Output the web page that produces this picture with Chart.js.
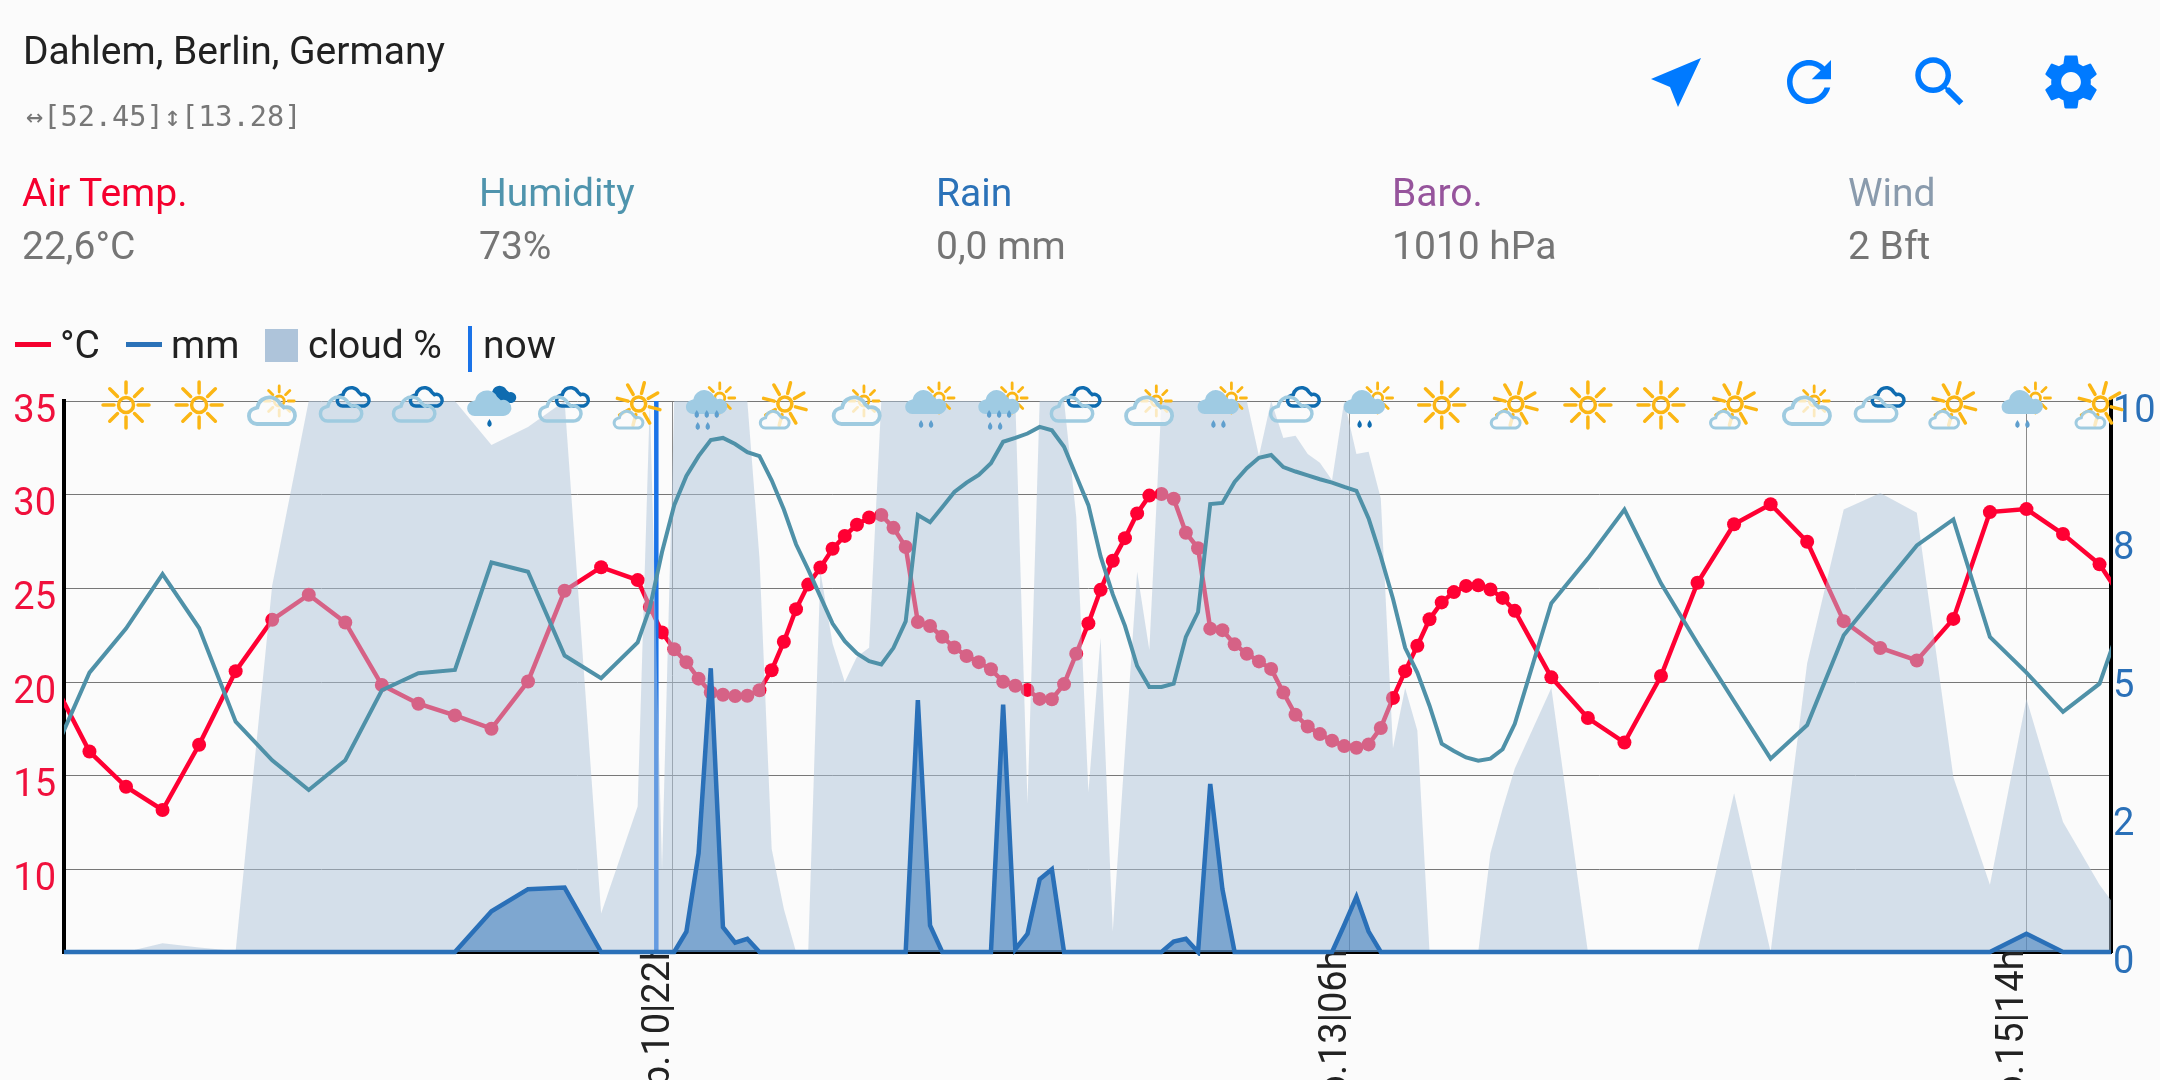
<!DOCTYPE html>
<html>
<head>
<meta charset="utf-8">
<title>Dahlem weather</title>
<script src="https://cdn.jsdelivr.net/npm/chart.js@4/dist/chart.umd.min.js"></script>
<style>
html,body{margin:0;padding:0;background:#fbfbfb;width:2160px;height:1080px;overflow:hidden;font-family:Roboto,sans-serif;}
canvas{position:absolute;left:0;top:0;}
.t{position:absolute;font-size:39px;line-height:44px;white-space:nowrap;}
.v{color:#757575;}
svg{position:absolute;fill:#007aff;}
.sw{position:absolute;}
</style>
</head>
<body>
<canvas id="myChart" width="2160" height="1080"></canvas>

<div class="t" style="left:23px;top:29px;color:#212121">Dahlem, Berlin, Germany</div>
<div class="t" style="left:26px;top:100px;color:#777;font-size:28.6px;line-height:32px;font-family:'DejaVu Sans Mono',monospace">↔[52.45]↕[13.28]</div>

<div class="t" style="left:22px;top:171px;color:#f5002e">Air Temp.</div>
<div class="t v" style="left:22px;top:224px">22,6°C</div>
<div class="t" style="left:479px;top:171px;color:#4f94ad">Humidity</div>
<div class="t v" style="left:479px;top:224px">73%</div>
<div class="t" style="left:936px;top:171px;color:#2b72b8">Rain</div>
<div class="t v" style="left:936px;top:224px">0,0 mm</div>
<div class="t" style="left:1392px;top:171px;color:#96549c">Baro.</div>
<div class="t v" style="left:1392px;top:224px">1010 hPa</div>
<div class="t" style="left:1848px;top:171px;color:#8a9bad">Wind</div>
<div class="t v" style="left:1848px;top:224px">2 Bft</div>

<div class="sw" style="left:15px;top:342px;width:36px;height:5px;background:#f5002e"></div>
<div class="t" style="left:60px;top:323px;color:#212121">°C</div>
<div class="sw" style="left:126px;top:342px;width:36px;height:5px;background:#2b72b8"></div>
<div class="t" style="left:171px;top:323px;color:#212121">mm</div>
<div class="sw" style="left:265px;top:329px;width:33px;height:33px;background:#aec4da"></div>
<div class="t" style="left:308px;top:323px;color:#212121">cloud %</div>
<div class="sw" style="left:468px;top:326px;width:4px;height:46px;background:#1a73e8"></div>
<div class="t" style="left:483px;top:323px;color:#212121">now</div>

<svg style="left:0;top:0" width="2160" height="120"><polygon points="1701,58 1651,79 1670,87 1678,107"/></svg>
<svg style="left:1776px;top:49px" width="66" height="66" viewBox="0 0 24 24"><path d="M17.65 6.35C16.2 4.9 14.21 4 12 4c-4.42 0-7.99 3.58-7.99 8s3.57 8 7.99 8c3.73 0 6.84-2.55 7.73-6h-2.08c-.82 2.33-3.04 4-5.65 4-3.31 0-6-2.69-6-6s2.69-6 6-6c1.66 0 3.14.69 4.22 1.78L13 11h7V4l-2.35 2.35z"/></svg>
<svg style="left:1907px;top:49px" width="66" height="66" viewBox="0 0 24 24"><path d="M15.5 14h-.79l-.28-.27C15.41 12.59 16 11.11 16 9.5 16 5.91 13.09 3 9.5 3S3 5.91 3 9.5 5.91 16 9.5 16c1.61 0 3.09-.59 4.23-1.57l.27.28v.79l5 4.99L20.49 19l-4.99-5zm-6 0C7.01 14 5 11.99 5 9.5S7.01 5 9.5 5 14 7.01 14 9.5 11.99 14 9.5 14z"/></svg>
<svg style="left:2038px;top:49px" width="66" height="66" viewBox="0 0 24 24"><path d="M19.14 12.94c.04-.3.06-.61.06-.94 0-.32-.02-.64-.07-.94l2.03-1.58c.18-.14.23-.41.12-.61l-1.92-3.32c-.12-.22-.37-.29-.59-.22l-2.39.96c-.5-.38-1.03-.7-1.62-.94l-.36-2.54c-.04-.24-.24-.41-.48-.41h-3.84c-.24 0-.43.17-.47.41l-.36 2.54c-.59.24-1.13.57-1.62.94l-2.39-.96c-.22-.08-.47 0-.59.22L2.74 8.87c-.12.21-.08.47.12.61l2.03 1.58c-.05.3-.09.63-.09.94s.02.64.07.94l-2.03 1.58c-.18.14-.23.41-.12.61l1.92 3.32c.12.22.37.29.59.22l2.39-.96c.5.38 1.03.7 1.62.94l.36 2.54c.05.24.24.41.48.41h3.84c.24 0 .44-.17.47-.41l.36-2.54c.59-.24 1.13-.56 1.62-.94l2.39.96c.22.08.47 0 .59-.22l1.92-3.32c.12-.22.07-.47-.12-.61l-2.01-1.58zM12 15.6c-1.98 0-3.6-1.62-3.6-3.6s1.62-3.6 3.6-3.6 3.6 1.62 3.6 3.6-1.62 3.6-3.6 3.6z"/></svg>

<script>
// hours counted from the 10|22 forecast step
var hours = [-51,-48,-45,-42,-39,-36,-33,-30,-27,-24,-21,-18,-15,-12,-9,-6,-3,
    -2,-1,0,1,2,3,4,5,6,7,8,9,10,11,12,13,14,15,16,17,18,19,20,21,22,23,24,25,26,27,28,29,30,31,32,33,34,
    35,36,37,38,39,40,41,42,43,44,45,46,47,48,49,50,51,52,53,54,55,56,57,58,59,60,61,62,63,64,65,66,67,68,69,
    72,75,78,81,84,87,90,93,96,99,102,105,108,111,114,117,120];

var temps = [20.06,16.29,14.41,13.17,16.65,20.58,23.32,24.66,23.18,19.84,18.84,18.22,17.51,20.03,24.87,26.13,25.44,
    24.01,22.65,21.75,21.06,20.18,19.44,19.32,19.25,19.27,19.56,20.63,22.15,23.89,25.2,26.11,27.11,27.8,28.4,28.78,28.92,28.23,27.21,
    23.2,22.99,22.42,21.84,21.39,21.06,20.68,20.01,19.8,19.58,19.1,19.08,19.89,21.51,23.13,24.92,26.47,27.68,29.0,29.95,30.04,29.78,27.97,27.14,
    22.85,22.77,22.01,21.51,21.1,20.7,19.44,18.25,17.63,17.22,16.87,16.58,16.49,16.67,17.55,19.15,20.58,21.94,23.35,24.25,24.8,25.13,25.16,24.94,24.49,23.8,
    20.25,18.08,16.77,20.32,25.3,28.42,29.49,27.49,23.25,21.82,21.15,23.37,29.07,29.23,27.9,26.28,23.35];

var humidity = [35.7,50.7,58.7,68.6,58.8,41.8,34.8,29.4,34.8,47.5,50.6,51.2,70.7,69,53.8,49.7,56.2,
    62.5,72.6,81.1,86.4,90,92.9,93.3,92.2,90.7,90,85.6,80.3,74,69.4,64.5,59.6,56.4,54.2,52.8,52.2,55.2,60,
    79.3,78,80.7,83.5,85.2,86.6,88.7,92.6,93.3,94.1,95.3,94.7,91.7,86.4,81.1,71.8,64.9,59.2,51.9,48.1,48.1,48.7,57.2,61.7,
    81.3,81.5,85.3,87.8,89.7,90.2,88,87.2,86.5,85.8,85.2,84.4,83.7,78.7,71.8,64.1,55.2,50.7,44.7,37.8,36.5,35.3,34.7,35.1,36.8,41.4,
    63.3,71.4,80.3,66.9,56,45.5,35.1,41.2,57.5,65.7,73.8,78.5,57.2,50.7,43.6,48.7,67.7];

var rain = [0,0,0,0,0,0,0,0,0,0,0,0,0.74,1.14,1.17,0,0,
    0,0,0,0.37,1.79,5.15,0.45,0.17,0.24,0,0,0,0,0,0,0,0,0,0,0,0,0,
    4.57,0.48,0,0,0,0,0,4.49,0.05,0.33,1.32,1.5,0,0,0,0,0,0,0,0,0,0.19,0.24,0,
    3.05,1.14,0,0,0,0,0,0,0,0,0,0.49,1.0,0.37,0,0,0,0,0,0,0,0,0,0,0,0,
    0,0,0,0,0,0,0,0,0,0,0,0,0,0.33,0,0,0];

var clouds = [0,0,0,1.6,0.8,0.2,66.5,100,100,100,100,100,92,95.3,100,7,26.4,
    100,15,100,100,100,100,100,100,100,71.4,18.7,7.8,0,0,69,56,49,53.6,55.2,100,100,100,
    100,100,100,100,100,100,100,100,100,27,100,100,100,79,29,57,3.7,36.5,69,54.8,100,100,100,100,
    100,100,100,100,90,100,93.3,93.7,90.4,88.8,85.6,100,90.4,90.8,82.3,37,47.9,40.2,0,0,0,0,0,17.9,26,33.3,
    47.9,0,0,0,0,28.8,0,52.4,80.3,83.3,79.7,31.7,12.2,45.9,23.6,12.2,3.3];

var tempTicks = [35,30,25,20,15,10];
var rainTicks = [0,2.5,5,7.5,10];
var rainTickLabels = ['0','2','5','8','10'];
var timeTicks = [-0.15,55.4,110.97];
var timeLabels = ['Sep.10|22h','Sep.13|06h\u00a0','Sep.15|14h\u00a0'];
var nowHour = [-1.47,-1.47];
var nowLevel = [0,100];

var iconHours = [-45,-39,-33,-27,-21,-15,-9,-3,3,9,15,21,27,33,39,45,51,57,63,69,75,81,87,93,99,105,111,117];
var iconKinds = ['sun','sun','cloudSun','twoClouds','twoClouds','storm','twoClouds','sunCloud','rainHeavy',
    'sunCloud','cloudSun','rainSun','rainHeavy','twoClouds','cloudSun','rainSun','twoClouds','rainDark','sun',
    'sunCloud','sun','sun','sunCloud','cloudSun','twoClouds','sunCloud','rainSun','sunCloud'];

function pairs(values) {
    return values.map(function(v, i) { return {x: hours[i], y: v}; });
}

var SUN = '#fbb614', CLOUD_LINE = '#9fcbe0', CLOUD_FILL = '#9fcbe3', DARK = '#0f6cb0';
var PAGE_WASH = 'rgba(251,251,251,0.75)';

function drawSun(ctx, x, y, r, rays, turn) {
    ctx.strokeStyle = SUN;
    ctx.lineWidth = r > 6 ? 3.5 : 2.8;
    ctx.lineCap = 'round';
    ctx.beginPath();
    ctx.arc(x, y, r, 0, Math.PI * 2);
    ctx.stroke();
    for (var i = 0; i < 8; i++) {
        var a = i * Math.PI / 4 + (turn || 0);
        ctx.beginPath();
        ctx.moveTo(x + Math.cos(a) * rays[0], y + Math.sin(a) * rays[0]);
        ctx.lineTo(x + Math.cos(a) * rays[1], y + Math.sin(a) * rays[1]);
        ctx.stroke();
    }
}

function cloudPath(ctx, x, y, w) {
    // x,y is the centre of the flat base line
    var h = w * 0.55;
    ctx.beginPath();
    ctx.moveTo(x - w * 0.32, y);
    ctx.arc(x - w * 0.32, y - h * 0.3, h * 0.3, Math.PI / 2, Math.PI * 1.4);
    ctx.arc(x - w * 0.06, y - h * 0.55, h * 0.46, Math.PI * 1.05, Math.PI * 1.85);
    ctx.arc(x + w * 0.3, y - h * 0.32, h * 0.32, Math.PI * 1.4, Math.PI / 2);
    ctx.closePath();
}

function outlineCloud(ctx, x, y, w, color, lw, bg) {
    cloudPath(ctx, x, y, w);
    if (bg) {
        ctx.fillStyle = bg;
        ctx.fill();
    }
    ctx.strokeStyle = color;
    ctx.lineWidth = lw;
    ctx.stroke();
}

function drops(ctx, x, y, n, color) {
    ctx.fillStyle = color;
    for (var i = 0; i < n; i++) {
        var dx = x + (i - (n - 1) / 2) * 10;
        ctx.beginPath();
        ctx.moveTo(dx, y);
        ctx.quadraticCurveTo(dx + 4.5, y + 6, dx, y + 8);
        ctx.quadraticCurveTo(dx - 4.5, y + 6, dx, y);
        ctx.fill();
    }
}

function drawIcon(ctx, kind, x, top) {
    if (kind === 'sun') {
        drawSun(ctx, x, top + 4, 7.5, [12, 23]);
    } else if (kind === 'sunCloud') {
        drawSun(ctx, x + 1, top + 3, 7, [11, 22], 0.26);
        outlineCloud(ctx, x - 9, top + 27, 30, CLOUD_LINE, 3, PAGE_WASH);
    } else if (kind === 'cloudSun') {
        drawSun(ctx, x + 7, top, 5, [9, 15]);
        outlineCloud(ctx, x, top + 23, 48, CLOUD_LINE, 3.8, PAGE_WASH);
    } else if (kind === 'twoClouds') {
        outlineCloud(ctx, x + 8, top + 5, 33, DARK, 3.5);
        outlineCloud(ctx, x - 4, top + 20, 43, CLOUD_LINE, 3.5);
    } else if (kind === 'storm') {
        cloudPath(ctx, x + 10, top + 2, 31);
        ctx.fillStyle = DARK;
        ctx.fill();
        cloudPath(ctx, x - 2, top + 15, 46);
        ctx.fillStyle = CLOUD_FILL;
        ctx.fill();
        drops(ctx, x - 2, top + 18, 1, DARK);
    } else {
        drawSun(ctx, x + 9, top - 3, 5, [9, 15]);
        cloudPath(ctx, x - 4, top + 13, 43);
        ctx.fillStyle = CLOUD_FILL;
        ctx.fill();
        if (kind === 'rainHeavy') {
            drops(ctx, x - 4, top + 9, 3, '#5f9fce');
            drops(ctx, x - 8, top + 21, 2, '#5f9fce');
        } else if (kind === 'rainSun') {
            drops(ctx, x - 4, top + 19, 2, '#5f9fce');
        } else {
            drops(ctx, x - 4, top + 19, 2, DARK);
        }
    }
}

var iconPlugin = {
    id: 'weatherIcons',
    afterDraw: function(chart) {
        var ctx = chart.ctx;
        ctx.save();
        iconHours.forEach(function(h, i) {
            drawIcon(ctx, iconKinds[i], chart.scales.x.getPixelForValue(h), chart.chartArea.top);
        });
        ctx.restore();
    }
};

var ctx = document.getElementById('myChart').getContext('2d');
var myChart = new Chart(ctx, {
    type: 'line',
    plugins: [iconPlugin],
    data: {
        datasets: [{
            label: '°C',
            data: pairs(temps),
            yAxisID: 'y',
            borderColor: '#ff0033',
            backgroundColor: '#ff0033',
            borderWidth: 4.5,
            pointRadius: 7,
            pointBorderWidth: 0,
            order: 4
        }, {
            label: 'now',
            data: nowHour.map(function(h, i) { return {x: h, y: nowLevel[i]}; }),
            yAxisID: 'pct',
            borderColor: '#1a73e8',
            borderWidth: 4.5,
            pointRadius: 0,
            order: 3
        }, {
            label: 'cloud %',
            data: pairs(clouds),
            yAxisID: 'pct',
            borderWidth: 0,
            borderColor: 'rgba(0,0,0,0)',
            backgroundColor: 'rgba(174,196,218,0.5)',
            pointRadius: 0,
            fill: 'origin',
            order: 2
        }, {
            label: 'humidity',
            data: pairs(humidity),
            yAxisID: 'pct',
            borderColor: '#4f91a8',
            borderWidth: 4,
            pointRadius: 0,
            order: 1
        }, {
            label: 'mm',
            data: pairs(rain),
            yAxisID: 'mm',
            borderColor: '#2a70b8',
            backgroundColor: 'rgba(42,112,184,0.5)',
            borderWidth: 4.5,
            pointRadius: 0,
            fill: 'origin',
            clip: {left: 0, top: 0, right: 0, bottom: 4},
            order: 0
        }]
    },
    options: {
        responsive: false,
        devicePixelRatio: 1,
        animation: false,
        layout: {padding: {top: 401, left: 0, right: 0, bottom: 0}},
        plugins: {legend: {display: false}, tooltip: {enabled: false}},
        scales: {
            x: {
                type: 'linear',
                min: -50.09,
                max: 117.94,
                afterBuildTicks: function(scale) {
                    scale.ticks = timeTicks.map(function(v) { return {value: v}; });
                },
                afterFit: function(scale) { scale.height = 128; },
                border: {color: '#000', width: 4},
                grid: {color: '#8a8a8a', lineWidth: 1, drawTicks: false},
                ticks: {
                    autoSkip: false,
                    minRotation: 90,
                    maxRotation: 90,
                    padding: -12,
                    labelOffset: -13,
                    color: '#222',
                    font: {family: 'Roboto', size: 38},
                    callback: function(v, i) { return timeLabels[i]; }
                }
            },
            y: {
                position: 'left',
                min: 5.59,
                max: 35,
                afterBuildTicks: function(scale) {
                    scale.ticks = tempTicks.map(function(v) { return {value: v}; });
                },
                afterFit: function(scale) { scale.width = 64; },
                border: {color: '#000', width: 4},
                grid: {color: '#777', lineWidth: 1, drawTicks: false},
                ticks: {
                    padding: 8,
                    labelOffset: 11,
                    color: '#f0103c',
                    font: {family: 'Roboto', size: 38}
                }
            },
            mm: {
                position: 'right',
                min: 0,
                max: 10,
                afterBuildTicks: function(scale) {
                    scale.ticks = rainTicks.map(function(v) { return {value: v}; });
                },
                afterFit: function(scale) { scale.width = 49; },
                border: {color: '#000', width: 4},
                grid: {display: false, drawTicks: false},
                ticks: {
                    padding: 2,
                    labelOffset: 11,
                    color: '#2a70b8',
                    font: {family: 'Roboto', size: 38},
                    callback: function(v, i) { return rainTickLabels[i]; }
                }
            },
            pct: {
                display: false,
                min: 0,
                max: 100
            }
        }
    }
});
</script>
</body>
</html>
